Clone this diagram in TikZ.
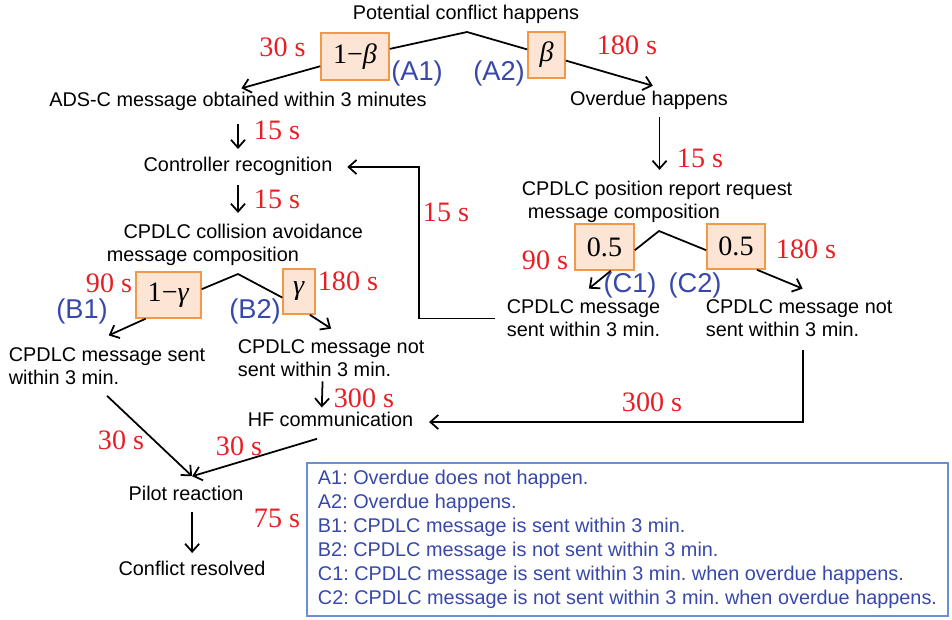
\documentclass[tikz,border=0pt]{standalone}
\usepackage{fontspec}
\setmainfont{Liberation Sans}
\newfontfamily\timesfont{Liberation Serif}
\usetikzlibrary{arrows.meta,positioning}
\frenchspacing

\begin{document}
\begin{tikzpicture}[x=0.02cm, y=-0.02cm, >={Straight Barb[length=4.5pt,width=8pt]}]
    % Colors and styles
    \definecolor{timered}{RGB}{232,30,36}
    \definecolor{caseblue}{RGB}{55,72,170}
    \definecolor{probfill}{RGB}{252,229,212}
    \definecolor{probedge}{RGB}{244,152,72}
    \definecolor{keyedge}{RGB}{105,145,205}
    \tikzstyle{every path}=[black, line width=1pt]
    \tikzstyle{event}=[font=\fontsize{11.3}{13}\selectfont, inner sep=2pt, text height=0.75em, text depth=0.2em]
    \tikzstyle{event2}=[font=\fontsize{11.3}{13}\selectfont, inner xsep=2pt, inner ysep=6pt, align=left, anchor=west]
    \tikzstyle{prob}=[draw=probedge, fill=probfill, inner sep=0pt, font=\timesfont\fontsize{16}{18}\selectfont]
    \tikzstyle{dur}=[text=timered, inner sep=0pt, font=\timesfont\fontsize{16}{18}\selectfont]
    \tikzstyle{case}=[text=caseblue, inner sep=0pt, font=\fontsize{15.5}{18}\selectfont]
    \tikzstyle{key}=[draw=keyedge, text=caseblue, align=left, anchor=north west, font=\fontsize{11.3}{13.6}\selectfont]

    \useasboundingbox (0,0) rectangle (952,619);

    % Events
    \node[event] (conflict) at (466,15) {Potential conflict happens};
    \node[event] (ads) at (238,102) {ADS-C message obtained within 3 minutes};
    \node[event] (overdue) at (649,101) {Overdue happens};
    \node[event] (ctrl) at (238,167) {Controller recognition};
    \node[event2] (coll) at (102.5,245) {\hspace*{9.5pt}CPDLC collision avoidance\\message composition};
    \node[event2] (pos) at (517.5,202) {CPDLC position report request\\\hspace*{3.4pt}message composition};
    \node[event2] (b1txt) at (4.5,366) {CPDLC message sent\\within 3 min.};
    \node[event2] (b2txt) at (233.5,358.5) {CPDLC message not\\sent within 3 min.};
    \node[event2] (c1txt) at (502.5,318.5) {CPDLC message\\sent within 3 min.};
    \node[event2] (c2txt) at (701.5,318.5) {CPDLC message not\\sent within 3 min.};
    \node[event] (hf) at (330.5,422) {HF communication};
    \node[event] (pilot) at (186,496) {Pilot reaction};
    \node[event] (resolved) at (192,571) {Conflict resolved};

    % Probability boxes
    \node[prob, minimum width=38.6pt, minimum height=26.6pt] (bA1) at (355,56.5) {1−\textit{β}};
    \node[prob, minimum width=21pt, minimum height=26pt] (bA2) at (546.5,55) {\textit{β}};
    \node[prob, minimum width=36.9pt, minimum height=26pt] (bB1) at (168.5,295) {1−\textit{γ}};
    \node[prob, minimum width=18pt, minimum height=25.5pt] (bB2) at (299,291.5) {\textit{γ}};
    \node[prob, minimum width=33.5pt, minimum height=26pt] (bC1) at (604.5,247) {0.5};
    \node[prob, minimum width=33pt, minimum height=25.5pt] (bC2) at (736,246.5) {0.5};

    % Branch points
    \coordinate (jA) at (467,32);
    \coordinate (jB) at (238,274);
    \coordinate (jC) at (659,231);
    \coordinate (loopc) at (419,318.5);
    \coordinate (pilotin) at ([xshift=3.5pt, yshift=4pt]pilot.north);

    % Case labels
    \node[case] (lA1) at (417,73) {(A1)};
    \node[case] (lA2) at (499,73) {(A2)};
    \node[case] (lB1) at (82,311) {(B1)};
    \node[case] (lB2) at (255,311) {(B2)};
    \node[case] (lC1) at (630,285) {(C1)};
    \node[case] (lC2) at (695,285) {(C2)};

    % Times
    \node[dur] (tA1) at (282.5,47) {30 s};
    \node[dur] (tA2) at (627,45) {180 s};
    \node[dur] (tads) at (277,130) {15 s};
    \node[dur] (tctrl) at (277,199) {15 s};
    \node[dur] (tover) at (700,158) {15 s};
    \node[dur] (tloop) at (446,212) {15 s};
    \node[dur] (tB1) at (109,283) {90 s};
    \node[dur] (tB2) at (348,281) {180 s};
    \node[dur] (tC1) at (545,260) {90 s};
    \node[dur] (tC2) at (806,249) {180 s};
    \node[dur] (thfB) at (364,398) {300 s};
    \node[dur] (thfC) at (652,402) {300 s};
    \node[dur] (tpB) at (121,440) {30 s};
    \node[dur] (tpH) at (239,446) {30 s};
    \node[dur] (tpil) at (277,518) {75 s};

    % Branches
    \draw (bA1) -- (jA) -- (bA2);
    \draw (bB1.10) -- (jB) -- (bB2.200);
    \draw (bC1.354) -- (jC) -- (bC2.187);

    % Arrows
    \draw[->, shorten >=2pt] (bA1) -- (ads.north);
    \draw[->, shorten >=5pt] (bA2) -- ([xshift=7pt]overdue.north);
    \draw[->, shorten <=5pt, shorten >=3pt] (ads) -- (ctrl);
    \draw[->, shorten <=3pt] (ctrl.south) -- (ctrl.south |- coll.north);
    \draw[->, shorten <=2pt] ([xshift=6pt]overdue.south) -- ([xshift=6pt]overdue.south |- pos.north);
    \draw[->, shorten >=1pt] (bB1.226) -- (b1txt.north);
    \draw[->] (bB2.295) -- (b2txt.north);
    \draw[->] (bC1.285) -- ([xshift=3pt]c1txt.north);
    \draw[->] (bC2.312) -- ([xshift=2pt]c2txt.north);
    \draw[->, shorten <=4pt, shorten >=6pt] (c1txt.west) -- (loopc) |- (ctrl.east);
    \draw[->, shorten <=-4pt, shorten >=1pt] ([xshift=-5pt]b2txt.south) -- ([xshift=-5pt]hf.north);
    \draw[->, shorten <=1pt, shorten >=6.5pt] ([xshift=2pt]c2txt.south) |- (hf.east);
    \draw[->] (b1txt.south) -- (pilotin);
    \draw[->, shorten <=8pt] (hf.south) -- (pilotin);
    \draw[->, shorten <=2pt, shorten >=3pt] (pilotin |- pilot.south) -- (pilotin |- resolved.north);

    % Legend
    \node[key, minimum width=365pt, minimum height=87.3pt] (legend) at (306,462) {A1: Overdue does not happen.\\
        A2: Overdue happens.\\
        B1: CPDLC message is sent within 3 min.\\
        B2: CPDLC message is not sent within 3 min.\\
        C1: CPDLC message is sent within 3 min. when overdue happens.\\
        C2: CPDLC message is not sent within 3 min. when overdue happens.};

\end{tikzpicture}
\end{document}
